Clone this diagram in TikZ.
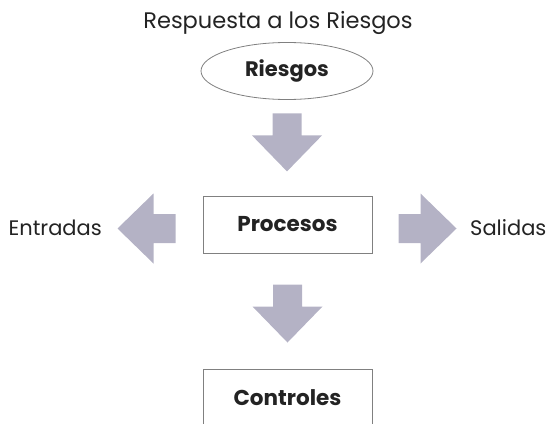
\documentclass[tikz,border=0pt]{standalone}
\usepackage{fontspec}
\setmainfont{Poppins}
\usetikzlibrary{shapes.geometric,positioning,calc}

\definecolor{arrowgray}{RGB}{180,178,197}
\definecolor{linegray}{RGB}{128,128,128}
\definecolor{inkgray}{RGB}{35,35,35}

\tikzset{
  bigarrow/.pic={\fill[arrowgray] (0,-14.5) -- (22,-14.5) -- (22,-35) -- (58,0)
    -- (22,35) -- (22,14.5) -- (0,14.5) -- cycle;},
  boxnode/.style={draw=linegray, line width=1pt, minimum width=169pt,
    minimum height=57pt, inner sep=0pt, text=inkgray,
    font=\bfseries\fontsize{21.5}{25}\selectfont},
  sidetext/.style={text=inkgray, inner sep=0pt, font=\fontsize{21}{25}\selectfont}
}

\begin{document}
\begin{tikzpicture}[x=1pt,y=-1pt]
\clip (0,0) rectangle (548,423);
\node [sidetext, anchor=base, font=\fontsize{22.5}{26}\selectfont] (title) at (278,28) {Respuesta a los Riesgos};
\node [ellipse, draw=linegray, line width=0.8pt, minimum width=172pt, minimum height=57pt,
  inner sep=0pt, text=inkgray, font=\bfseries\fontsize{21}{25}\selectfont] (risk) at (287,71) {Riesgos};
\node [boxnode] (proc) at (287.5,224.5) {Procesos};
\node [boxnode] (ctrl) at (287.5,397.5) {Controles};
\node [sidetext, anchor=base east] (inp) at (102,235) {Entradas};
\node [sidetext, anchor=base west] (out) at (470,235) {Salidas};

% arrows between the boxes
\path (risk.south) ++(0,13.5) pic[rotate=-90] {bigarrow};
\path (proc.south) ++(0,31) pic[rotate=-90] {bigarrow};
\path (proc.west) ++(-27,4) pic[rotate=180] {bigarrow};
\path (proc.east) ++(26,4) pic {bigarrow};
\end{tikzpicture}
\end{document}
